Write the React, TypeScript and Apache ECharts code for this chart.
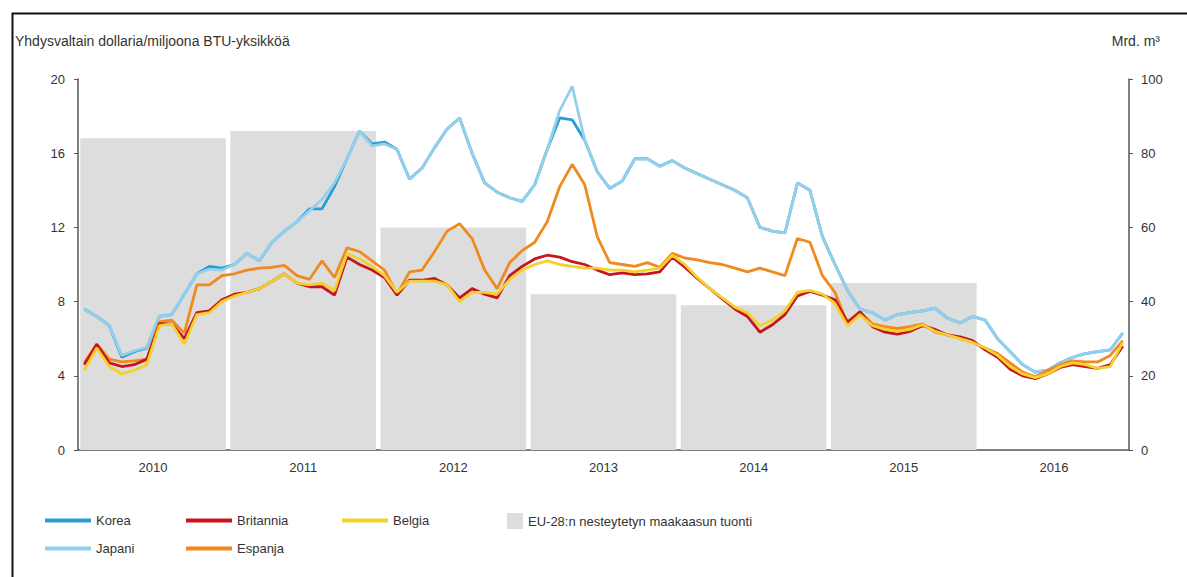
import React, { useEffect, useRef } from "react";
import * as echarts from "echarts";

const years = ["2010", "2011", "2012", "2013", "2014", "2015", "2016"];
const monthNames = ["01", "02", "03", "04", "05", "06", "07", "08", "09", "10", "11", "12"];
const months = years.flatMap((y) => monthNames.map((m) => `${y}-${m}`));

const korea = [
  7.6, 7.2, 6.7, 5.0, 5.3, 5.5, 7.2, 7.3, 8.4, 9.5, 9.9, 9.8,
  10.0, 10.6, 10.2, 11.2, 11.8, 12.3, 13.0, 13.0, 14.2, 15.7, 17.2, 16.5,
  16.6, 16.2, 14.6, 15.2, 16.3, 17.3, 17.9, 16.0, 14.4, 13.9, 13.6, 13.4,
  14.3, 16.2, 17.9, 17.8, 16.7, 15.0, 14.1, 14.5, 15.7, 15.7, 15.3, 15.6,
  15.2, 14.9, 14.6, 14.3, 14.0, 13.6, 12.0, 11.8, 11.7, 14.4, 14.0, 11.5,
  10.0, 8.6, 7.6, 7.4, 7.0, 7.3, 7.4, 7.5, 7.65, 7.1, 6.85, 7.2,
  7.0, 6.0, 5.3, 4.6, 4.2, 4.3, 4.7, 5.0, 5.2, 5.3, 5.4, 6.3,
];

const japani = [
  7.6, 7.2, 6.7, 5.1, 5.35, 5.55, 7.2, 7.3, 8.4, 9.5, 9.75, 9.7,
  10.0, 10.6, 10.2, 11.2, 11.8, 12.3, 12.9, 13.5, 14.4, 15.7, 17.2, 16.4,
  16.5, 16.2, 14.6, 15.2, 16.3, 17.3, 17.9, 16.0, 14.4, 13.9, 13.6, 13.4,
  14.3, 16.2, 18.3, 19.6, 16.7, 15.0, 14.1, 14.5, 15.7, 15.7, 15.3, 15.6,
  15.2, 14.9, 14.6, 14.3, 14.0, 13.6, 12.0, 11.8, 11.7, 14.4, 14.0, 11.5,
  10.0, 8.6, 7.6, 7.4, 7.0, 7.3, 7.4, 7.5, 7.65, 7.1, 6.85, 7.2,
  7.0, 6.0, 5.3, 4.6, 4.2, 4.3, 4.7, 5.0, 5.2, 5.3, 5.4, 6.3,
];

const britannia = [
  4.6, 5.7, 4.7, 4.5, 4.6, 4.9, 6.8, 6.8, 6.0, 7.4, 7.5, 8.1,
  8.4, 8.5, 8.7, 9.1, 9.5, 9.0, 8.8, 8.8, 8.35, 10.4, 10.0, 9.7,
  9.3, 8.35, 9.15, 9.15, 9.25, 8.9, 8.2, 8.7, 8.4, 8.2, 9.4, 9.9,
  10.3, 10.5, 10.4, 10.15, 10.0, 9.7, 9.45, 9.55, 9.45, 9.5, 9.6, 10.4,
  9.85, 9.25, 8.7, 8.15, 7.6, 7.2, 6.35, 6.75, 7.3, 8.3, 8.55, 8.35,
  8.1, 6.9, 7.45, 6.65, 6.35, 6.25, 6.4, 6.7, 6.5, 6.2, 6.1, 5.9,
  5.4, 5.0, 4.35, 4.0, 3.85, 4.1, 4.45, 4.6, 4.5, 4.4, 4.6, 5.6,
];

const espanja = [
  4.7, 5.7, 4.9, 4.75, 4.8, 4.9, 6.9, 7.0, 6.3, 8.9, 8.9, 9.4,
  9.5, 9.7, 9.8, 9.85, 9.95, 9.4, 9.2, 10.2, 9.3, 10.9, 10.7, 10.2,
  9.7, 8.4, 9.6, 9.7, 10.7, 11.8, 12.2, 11.4, 9.7, 8.7, 10.1, 10.75,
  11.2, 12.3, 14.2, 15.4, 14.3, 11.5, 10.1, 10.0, 9.9, 10.1, 9.85, 10.6,
  10.35, 10.25, 10.1, 10.0, 9.8, 9.6, 9.8, 9.6, 9.4, 11.4, 11.2, 9.4,
  8.5, 6.8, 7.45, 6.8, 6.65, 6.55, 6.65, 6.8, 6.35, 6.2, 6.0, 5.8,
  5.5, 5.2, 4.7, 4.2, 3.95, 4.3, 4.6, 4.8, 4.75, 4.75, 5.1, 5.9,
];

const belgia = [
  4.3, 5.5, 4.5, 4.1, 4.3, 4.6, 6.7, 6.8, 5.7, 7.3, 7.4, 8.0,
  8.3, 8.5, 8.7, 9.1, 9.5, 9.0, 8.9, 9.0, 8.6, 10.6, 10.3, 9.9,
  9.4, 8.5, 9.1, 9.1, 9.1, 8.9, 8.0, 8.5, 8.5, 8.4, 9.2, 9.7,
  10.0, 10.2, 10.0, 9.9, 9.8, 9.8, 9.7, 9.7, 9.6, 9.7, 9.8, 10.5,
  10.0, 9.3, 8.7, 8.2, 7.7, 7.4, 6.7, 7.0, 7.5, 8.5, 8.6, 8.4,
  7.9, 6.7, 7.3, 6.7, 6.5, 6.4, 6.5, 6.75, 6.4, 6.2, 6.0, 5.8,
  5.5, 5.1, 4.5, 4.1, 3.9, 4.1, 4.5, 4.7, 4.6, 4.4, 4.5, 5.8,
];

const lngImports = [84, 86, 60, 42, 39, 45, null];

const leftTicks = [0, 4, 8, 12, 16, 20];
const rightTicks = [0, 20, 40, 60, 80, 100];

const FONT = "'Liberation Sans', Arial, Helvetica, sans-serif";
const EU_NAME = "EU-28:n nesteytetyn maakaasun tuonti";

const colors = {
  korea: "#2a9cd4",
  japani: "#94cfec",
  britannia: "#c8141e",
  espanja: "#f08a1c",
  belgia: "#f3d12a",
  bar: "#dddddd",
  axis: "#555555",
  text: "#333333",
};

export default function App() {
  const ref = useRef<HTMLDivElement>(null);

  useEffect(() => {
    if (!ref.current) return;
    const chart = echarts.init(ref.current, undefined, { renderer: "svg" });

    const lineSeries = (name: string, data: number[], color: string) => ({
      name,
      type: "line",
      xAxisIndex: 0,
      yAxisIndex: 0,
      data,
      symbol: "none",
      smooth: false,
      lineStyle: { width: 2.8, color },
      itemStyle: { color },
      z: 5,
    });

    const legendBase = {
      orient: "horizontal",
      icon: "rect",
      itemWidth: 46,
      itemHeight: 4,
      padding: 0,
      itemGap: 0,
      textStyle: { fontSize: 13, color: colors.text, fontFamily: FONT },
      selectedMode: false,
    };

    const option = {
      animation: false,
      backgroundColor: "#ffffff",
      textStyle: { fontFamily: FONT },
      grid: { left: 78, right: 58, top: 79, bottom: 127, containLabel: false },
      xAxis: [
        {
          type: "category",
          data: months,
          boundaryGap: true,
          position: "bottom",
          axisLine: { show: false },
          axisTick: { show: false },
          axisLabel: { show: false },
          splitLine: { show: false },
        },
        {
          type: "category",
          data: years,
          boundaryGap: true,
          position: "bottom",
          axisLine: { show: true, lineStyle: { color: colors.axis, width: 1.5 } },
          axisTick: { show: false },
          axisLabel: { fontSize: 13, color: colors.text, margin: 11, fontFamily: FONT },
          splitLine: { show: false },
        },
      ],
      yAxis: [
        {
          type: "value",
          position: "left",
          min: leftTicks[0],
          max: leftTicks[leftTicks.length - 1],
          interval: 4,
          axisLine: { show: true, lineStyle: { color: colors.axis, width: 1.5 } },
          axisTick: { show: true, length: 4, lineStyle: { color: colors.axis } },
          axisLabel: { fontSize: 13, color: colors.text, margin: 13, fontFamily: FONT },
          splitLine: { show: false },
        },
        {
          type: "value",
          position: "right",
          min: rightTicks[0],
          max: rightTicks[rightTicks.length - 1],
          interval: 20,
          axisLine: { show: true, lineStyle: { color: colors.axis, width: 1.5 } },
          axisTick: { show: true, length: 4, lineStyle: { color: colors.axis } },
          axisLabel: { fontSize: 13, color: colors.text, margin: 12, fontFamily: FONT },
          splitLine: { show: false },
        },
      ],
      legend: [
        { ...legendBase, data: ["Korea"], left: 45, top: 514 },
        { ...legendBase, data: ["Britannia"], left: 186, top: 514 },
        { ...legendBase, data: ["Belgia"], left: 342, top: 514 },
        { ...legendBase, data: [EU_NAME], left: 507, top: 513, itemWidth: 16, itemHeight: 16 },
        { ...legendBase, data: ["Japani"], left: 45, top: 542 },
        { ...legendBase, data: ["Espanja"], left: 186, top: 542 },
      ],
      graphic: [
        {
          type: "rect",
          left: 10,
          top: 11,
          shape: { width: 1200, height: 600 },
          style: { fill: "none", stroke: "#111111", lineWidth: 2 },
          silent: true,
        },
        {
          type: "text",
          left: 15,
          top: 34,
          style: {
            text: "Yhdysvaltain dollaria/miljoona BTU-yksikköä",
            fontSize: 14,
            fill: colors.text,
            fontFamily: FONT,
          },
        },
        {
          type: "text",
          right: 27,
          top: 34,
          style: { text: "Mrd. m³", fontSize: 14, fill: colors.text, fontFamily: FONT },
        },
      ],
      series: [
        {
          name: EU_NAME,
          type: "bar",
          xAxisIndex: 1,
          yAxisIndex: 1,
          data: lngImports,
          barCategoryGap: "3%",
          itemStyle: { color: colors.bar },
          z: 1,
        },
        lineSeries("Korea", korea, colors.korea),
        lineSeries("Japani", japani, colors.japani),
        lineSeries("Espanja", espanja, colors.espanja),
        lineSeries("Britannia", britannia, colors.britannia),
        lineSeries("Belgia", belgia, colors.belgia),
      ],
    };

    chart.setOption(option as any);
    return () => chart.dispose();
  }, []);

  return (
    <div
      ref={ref}
      style={{ position: "absolute", left: 0, top: 0, width: 1187, height: 577, background: "#fff" }}
    />
  );
}
